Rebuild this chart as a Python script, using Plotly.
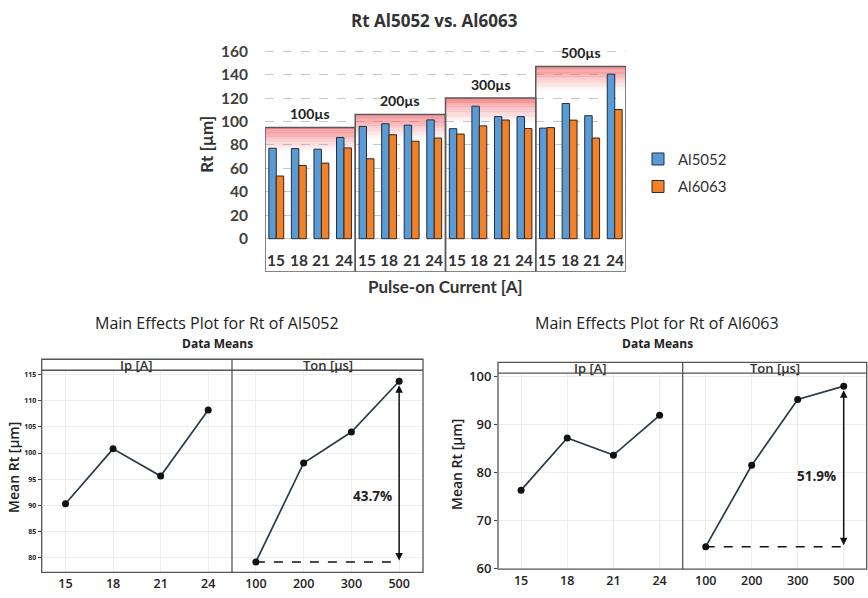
import plotly.graph_objects as go

# ---------------- data ----------------
currents = ["15", "18", "21", "24"]
pulse_on = ["100µs", "200µs", "300µs", "500µs"]
rt_al5052 = [77.2, 76.9, 76.4, 86.4, 95.8, 98.1, 96.9, 101.4,
             93.9, 113.1, 104.2, 104.2, 94.4, 115.4, 105.0, 140.4]
rt_al6063 = [53.5, 62.5, 64.5, 77.5, 68.2, 88.7, 83.2, 85.9,
             89.3, 96.3, 101.3, 94.0, 94.8, 101.2, 85.9, 110.2]
group_box_top = [95, 106, 120, 147]
y_ticks_top = [0, 20, 40, 60, 80, 100, 120, 140, 160]

ip_labels = ["15", "18", "21", "24"]
ton_labels = ["100", "200", "300", "500"]
me5052_ip = [90.3, 100.8, 95.6, 108.2]
me5052_ton = [79.2, 98.1, 104.0, 113.7]
me6063_ip = [76.3, 87.2, 83.6, 91.9]
me6063_ton = [64.5, 81.5, 95.2, 98.0]
pct_5052 = "43.7%"
pct_6063 = "51.9%"

W, H = 868, 598
def px(x): return x / W
def py(y): return 1 - y / H

TOPFONT = "Lato"
BOTFONT = "Open Sans"
BLUE, ORANGE = "#5B9BD5", "#F0822E"

fig = go.Figure()
n = len(rt_al5052)
xs = list(range(n))

fig.add_trace(go.Bar(x=xs, y=rt_al5052, name="Al5052", legendgroup="a",
                     marker=dict(color=BLUE, line=dict(color="#1F2F40", width=1)),
                     xaxis="x", yaxis="y"))
fig.add_trace(go.Bar(x=xs, y=rt_al6063, name="Al6063", legendgroup="b",
                     marker=dict(color=ORANGE, line=dict(color="#3A2410", width=1)),
                     xaxis="x", yaxis="y"))

def me_trace(vals, xa, ya):
    return go.Scatter(x=list(range(len(vals))), y=vals, mode="lines+markers",
                      line=dict(color="#2B3A4A", width=1.7),
                      marker=dict(color="#111111", size=7),
                      showlegend=False, xaxis=xa, yaxis=ya)

fig.add_trace(me_trace(me5052_ip, "x3", "y3"))
fig.add_trace(me_trace(me5052_ton, "x4", "y3"))
fig.add_trace(me_trace(me6063_ip, "x5", "y4"))
fig.add_trace(me_trace(me6063_ton, "x6", "y4"))

shapes = []
annotations = []

def paper_text(x, y, text, font, angle=0):
    annotations.append(dict(x=px(x), y=py(y), xref="paper", yref="paper", text=text,
                            showarrow=False, xanchor="center", yanchor="middle",
                            textangle=angle, font=font))

YMIN_TOP, YMAX_TOP = -28.1, 165.25

for g, top in enumerate(group_box_top):
    x0, x1 = g * 4 - 0.5, g * 4 + 3.5
    N, depth = 26, 21.0
    for k in range(N):
        yh = top - k * depth / N
        yl = yh - depth / N - 0.05
        a = 0.72 * (1 - k / N) ** 1.2
        shapes.append(dict(type="rect", xref="x", yref="y", x0=x0, x1=x1, y0=yl, y1=yh,
                           line=dict(width=0), fillcolor=f"rgba(240,95,100,{a:.3f})",
                           layer="between"))
    shapes.append(dict(type="rect", xref="x", yref="y", x0=x0, x1=x1, y0=YMIN_TOP, y1=top,
                       line=dict(color="#5A5A5A", width=1.5), fillcolor="rgba(0,0,0,0)",
                       layer="above"))
    annotations.append(dict(x=g * 4 + 1.5, y=top, xref="x", yref="y", text=pulse_on[g],
                            showarrow=False, yanchor="bottom", yshift=3,
                            font=dict(family=TOPFONT, size=14, color="#222", weight="bold")))

for i in xs:
    annotations.append(dict(x=i, y=-18, xref="x", yref="y", text=currents[i % 4],
                            showarrow=False, yanchor="middle",
                            font=dict(family=TOPFONT, size=15.5, color="#333", weight="bold")))

paper_text(434, 15, "Rt Al5052 vs. Al6063",
           dict(family=BOTFONT, size=17, color="#333", weight="bold"))
paper_text(207, 142, "Rt [µm]", dict(family=TOPFONT, size=17, color="#333", weight="bold"), -90)
paper_text(445, 287, "Pulse-on Current [A]",
           dict(family=TOPFONT, size=17, color="#333", weight="bold"))

def panel(left, mid, right, top, strip, bottom, title_x, title, ytitle_x, ytitle_y):
    c = "#555555"
    shapes.extend([
        dict(type="rect", xref="paper", yref="paper", x0=px(left), x1=px(right),
             y0=py(bottom), y1=py(top), line=dict(color=c, width=1.3)),
        dict(type="line", xref="paper", yref="paper", x0=px(left), x1=px(right),
             y0=py(strip), y1=py(strip), line=dict(color=c, width=1.3)),
        dict(type="line", xref="paper", yref="paper", x0=px(mid), x1=px(mid),
             y0=py(bottom), y1=py(top), line=dict(color=c, width=1.3)),
    ])
    sy = (top + strip) / 2
    sf = dict(family=BOTFONT, size=13, color="#333", weight=600)
    paper_text((left + mid) / 2, sy, "Ip [A]", sf)
    paper_text((mid + right) / 2, sy, "Ton [µs]", sf)
    paper_text(title_x, 325, title, dict(family=BOTFONT, size=16, color="#222"))
    paper_text(title_x, 345.5, "Data Means",
               dict(family=BOTFONT, size=12, color="#222", weight="bold"))
    paper_text(ytitle_x, ytitle_y, "Mean Rt [µm]",
               dict(family=BOTFONT, size=14, color="#222", weight=600), -90)

panel(41.7, 232, 423, 361.7, 373, 580, 217, "Main Effects Plot for Rt of Al5052", 14, 473)
panel(498, 682.7, 866.7, 365, 376, 576.7, 657, "Main Effects Plot for Rt of Al6063", 456, 469)

def effect_marks(vals, xa, ya, pct, tx, ty):
    last = len(vals) - 1
    shapes.append(dict(type="line", xref=xa, yref=ya, x0=0, x1=last, y0=vals[0], y1=vals[0],
                       line=dict(color="#111", width=1.5, dash="dash")))
    annotations.append(dict(x=last, y=vals[-1], ax=last, ay=vals[0], xref=xa, yref=ya,
                            axref=xa, ayref=ya, text="", showarrow=True, arrowhead=2,
                            arrowside="end+start", arrowsize=1, arrowwidth=1.5,
                            arrowcolor="#111", standoff=4, startstandoff=0))
    annotations.append(dict(x=tx, y=ty, xref=xa, yref=ya, text=pct, showarrow=False,
                            font=dict(family=BOTFONT, size=13.5, color="#222", weight="bold")))

effect_marks(me5052_ton, "x4", "y3", pct_5052, 2.45, 91.7)
effect_marks(me6063_ton, "x6", "y4", pct_6063, 2.4, 79.3)

def cat_x(domain, labels, anchor):
    return dict(domain=domain, anchor=anchor, range=[-0.5, 3.5],
                tickvals=list(range(len(labels))), ticktext=labels,
                tickfont=dict(family=BOTFONT, size=12.5, color="#222", weight=600),
                showgrid=True, gridcolor="#EDEDED", zeroline=False, showline=False,
                ticks="", ticklabelstandoff=2)

fig.update_layout(
    width=W, height=H, margin=dict(l=0, r=0, t=0, b=0),
    paper_bgcolor="white", plot_bgcolor="rgba(0,0,0,0)",
    barmode="group", bargap=0.34, bargroupgap=0,
    showlegend=True,
    legend=dict(x=px(638), y=py(140), xanchor="left", yanchor="top",
                font=dict(family=TOPFONT, size=15, color="#333"),
                itemwidth=30, tracegroupgap=5, bgcolor="rgba(0,0,0,0)"),
    xaxis=dict(domain=[px(265), px(626)], anchor="y", range=[-0.5, n - 0.5],
               showticklabels=False, showgrid=False, zeroline=False, ticks=""),
    yaxis=dict(domain=[py(272), py(40)], anchor="x", range=[YMIN_TOP, YMAX_TOP],
               tickvals=y_ticks_top, showgrid=True, gridcolor="#C8C8C8", griddash="dash",
               gridwidth=1, zeroline=False, showline=False, ticks="",
               ticklabelstandoff=16,
               tickfont=dict(family=TOPFONT, size=15.5, color="#404040", weight="bold")),
    xaxis3=cat_x([px(41.7), px(232)], ip_labels, "y3"),
    xaxis4=cat_x([px(232), px(423)], ton_labels, "y3"),
    xaxis5=cat_x([px(498), px(682.7)], ip_labels, "y4"),
    xaxis6=cat_x([px(682.7), px(866.7)], ton_labels, "y4"),
    yaxis3=dict(domain=[py(580), py(373)], anchor="x3", range=[77.2, 115.8],
                tickvals=[80, 85, 90, 95, 100, 105, 110, 115],
                tickfont=dict(family=BOTFONT, size=7, color="#222", weight="bold"),
                showgrid=True, gridcolor="#EDEDED", zeroline=False, ticks="outside",
                ticklen=3, tickcolor="#444"),
    yaxis4=dict(domain=[py(576.7), py(376)], anchor="x5", range=[59.8, 100.7],
                tickvals=[60, 70, 80, 90, 100],
                tickfont=dict(family=BOTFONT, size=13, color="#222", weight=600),
                showgrid=True, gridcolor="#EDEDED", zeroline=False, ticks="outside",
                ticklen=3, tickcolor="#444"),
    shapes=shapes, annotations=annotations,
)

fig.write_html("out.html", config={"displayModeBar": False},
               post_script="document.body.style.margin='0';document.body.style.overflow='hidden';")
